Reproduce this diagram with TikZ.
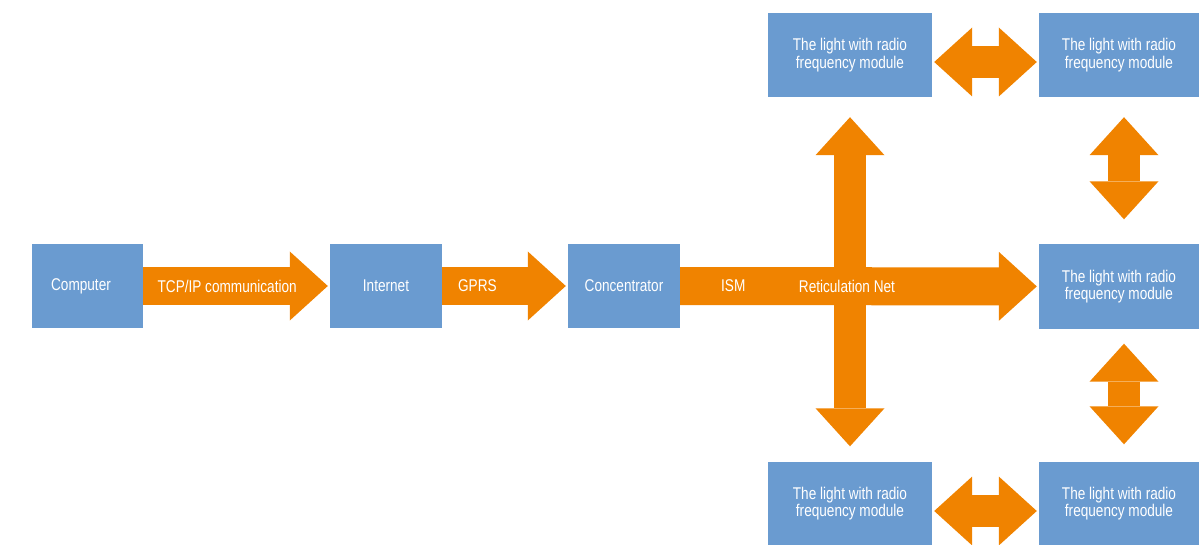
\documentclass[tikz,border=0pt]{standalone}
\usepackage{fontspec}
\setmainfont{Liberation Sans}[FakeStretch=0.8]
\usepackage{tikz}
\usetikzlibrary{arrows.meta}
\definecolor{boxblue}{RGB}{106,155,208}
\definecolor{arrorange}{RGB}{240,131,0}
\tikzstyle{node:box}=[rectangle,fill=boxblue,minimum height=84pt,inner sep=0pt,text=white,align=center,font=\fontsize{17}{17.5}\selectfont]
\tikzstyle{node:label}=[text=white,inner sep=0pt,font=\fontsize{17}{17.5}\selectfont]
\tikzstyle{draw:oneway}=[draw=arrorange,line width=38pt,-{Triangle[width=69pt,length=38pt,line width=0pt]}]
\tikzstyle{draw:twoway}=[draw=arrorange,line width=32pt,{Triangle[width=69pt,length=38pt,line width=0pt]}-{Triangle[width=69pt,length=38pt,line width=0pt]}]

\begin{document}
\begin{tikzpicture}[x=1pt,y=-1pt]
        \useasboundingbox (0,0) rectangle (1199,545);

        % Chain to the concentrator
        \node[node:box,minimum width=111pt] (computer) at (87.5,286) {Computer\hspace*{13pt}};
        \node[node:box,minimum width=112pt] (internet) at (386,286) {Internet};
        \node[node:box,minimum width=112pt] (concentrator) at (624,286) {Concentrator};

        % Lights
        \node[node:box,minimum width=164pt] (light1) at (850,55) {The light with radio\\frequency module};
        \node[node:box,minimum width=160pt] (light2) at (1119,55) {The light with radio\\frequency module};
        \node[node:box,minimum width=160pt] (light3) at (1119,286.5) {The light with radio\\frequency module};
        \node[node:box,minimum width=164pt] (light4) at (850,503.5) {The light with radio\\frequency module};
        \node[node:box,minimum width=160pt] (light5) at (1119,503.5) {The light with radio\\frequency module};

        % Net arrows between lights
        \draw[draw:twoway,shorten <=20pt,shorten >=15pt] (light1.south) -- (light4.north);
        \draw[draw:twoway,shorten <=20pt,shorten >=25pt] ([xshift=5pt]light2.south) -- ([xshift=5pt]light3.north);
        \draw[draw:twoway,shorten <=15pt,shorten >=17pt] ([xshift=5pt]light3.south) -- ([xshift=5pt]light5.north);
        \draw[draw:twoway,shorten <=2pt,shorten >=2pt] ([yshift=-7pt]light1.east) -- ([yshift=-7pt]light2.west);
        \draw[draw:twoway,shorten <=2pt,shorten >=2pt] ([yshift=-7.5pt]light4.east) -- ([yshift=-7.5pt]light5.west);

        % Main arrows
        \draw[draw:oneway,shorten >=2pt] (computer) -- (internet) node[node:label,pos=0.45] {TCP/IP communication};
        \draw[draw:oneway,shorten >=2pt] (internet) -- (concentrator) node[node:label,pos=0.28] {GPRS};
        \draw[draw:oneway,shorten >=2pt] (concentrator) -- (light3)
            node[node:label,pos=0.148] {ISM}
            node[node:label,pos=0.465] {Reticulation Net};
\end{tikzpicture}
\end{document}
